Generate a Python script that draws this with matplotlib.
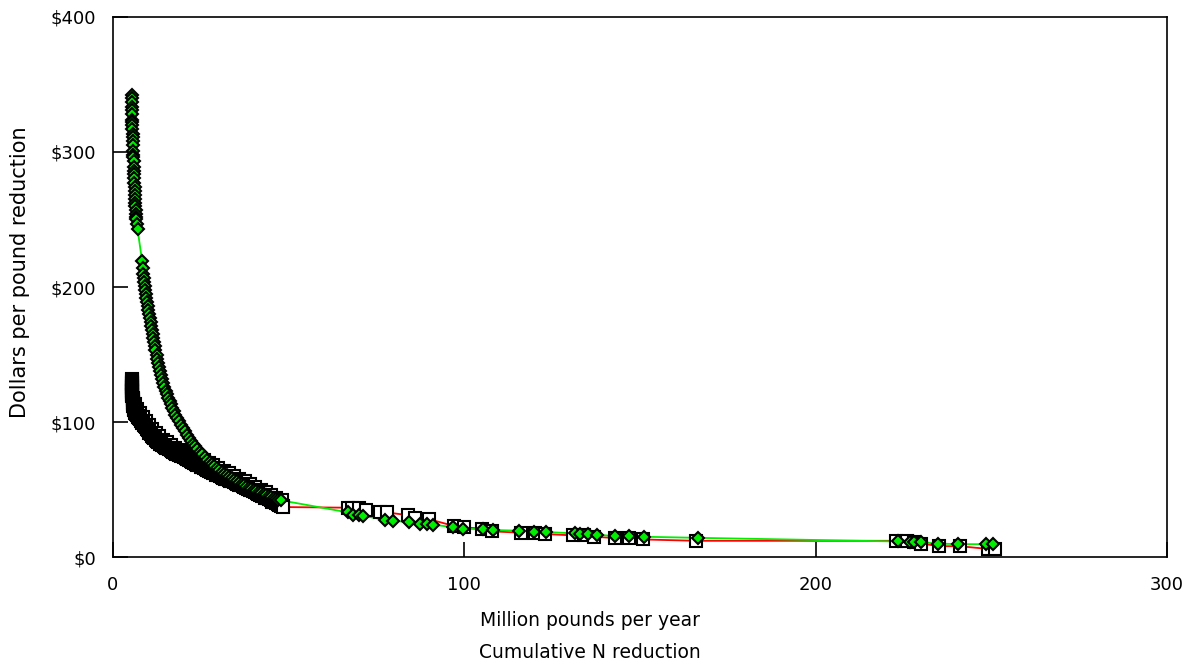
import matplotlib.pyplot as plt
from matplotlib.ticker import FuncFormatter

# left part of series 1 (squares, red line): dense run of points
sq_left = [
    (5.3, 132), (5.3, 131), (5.35, 130), (5.35, 129), (5.4, 128), (5.4, 127),
    (5.4, 126), (5.45, 125), (5.45, 124), (5.5, 123), (5.5, 122), (5.5, 121),
    (5.55, 120), (5.55, 119), (5.6, 118), (5.6, 117), (5.65, 116), (5.7, 115),
    (5.7, 114), (5.75, 113), (5.8, 112), (5.85, 111), (5.9, 110), (6.0, 109),
    (6.2, 108), (6.4, 107), (6.6, 106), (6.8, 105), (7.0, 104.5), (7.2, 104),
    (7.5, 103), (7.7, 102), (7.9, 101), (8.2, 100), (8.4, 99.5), (8.6, 99),
    (8.9, 98), (9.1, 97), (9.4, 96), (9.6, 95), (9.9, 94), (10.2, 93),
    (10.4, 92), (10.7, 91), (11.0, 90), (11.3, 89), (11.6, 88.5), (11.9, 88),
    (12.2, 87), (12.5, 86), (12.8, 85.5), (13.1, 85), (13.5, 84), (13.8, 83.5),
    (14.1, 83), (14.5, 82), (14.8, 81.5), (15.2, 81), (15.6, 80.5), (16.0, 80),
    (16.4, 79), (16.8, 78.5), (17.2, 78), (17.6, 77), (18.0, 76.5), (18.5, 76),
    (18.9, 75.5), (19.3, 75), (19.8, 74.5), (20.2, 74), (20.7, 73), (21.2, 72.5),
    (21.6, 72), (22.1, 71), (22.6, 70.5), (23.0, 70), (23.5, 69), (24.0, 68.5),
    (24.5, 68), (25.0, 67), (25.4, 66.5), (25.9, 66), (26.4, 65), (26.9, 64.5),
    (27.4, 64), (27.9, 63), (28.4, 62.5), (28.9, 62), (29.4, 61), (29.9, 60.5),
    (30.4, 60), (30.9, 59), (31.4, 58.5), (31.9, 58), (32.4, 57.5), (32.9, 57),
    (33.4, 56.5), (33.9, 56), (34.4, 55.5), (34.9, 55), (35.4, 54), (35.9, 53.5),
    (36.4, 53), (36.9, 52.5), (37.4, 52), (37.9, 51), (38.4, 50.5), (38.9, 50),
    (39.4, 49.5), (39.9, 49), (40.4, 48), (40.9, 47.5), (41.4, 47), (41.9, 46),
    (42.4, 45.5), (42.9, 45), (43.4, 44), (43.9, 43.5), (44.4, 43), (44.9, 42),
    (45.4, 41), (45.9, 40.5), (46.4, 40), (46.9, 39), (47.4, 38.5), (47.9, 38),
    (48.3, 37.5), (48.5, 37),
]
# squares lying above the main run, widening the black band
sq_upper = [
    (6.2, 113), (6.8, 110), (7.6, 107), (8.5, 104), (9.4, 101), (10.3, 98),
    (11.2, 95), (12.2, 92), (13.2, 89.5), (14.3, 87), (15.4, 85), (16.6, 83),
    (17.8, 81), (19.0, 79.5), (20.3, 78), (21.6, 76.5), (23.0, 75), (24.4, 73.5),
    (25.8, 72), (27.2, 70), (28.6, 68), (30.0, 66), (31.5, 64), (33.0, 62),
    (34.5, 60), (36.0, 58), (37.5, 56), (39.0, 54), (40.5, 52), (42.0, 50),
    (43.5, 48), (45.0, 46), (46.5, 44), (48.0, 42),
]
# right part of series 1
sq_right = [
    (67, 36.5), (68, 36.5), (70, 36), (72, 35), (76, 33), (78, 33), (84, 31),
    (86, 29), (90, 28), (97, 23), (100, 22), (105, 21), (108, 19), (116, 18),
    (120, 18), (123, 17), (131, 16), (134, 16), (137, 15), (143, 14), (147, 14),
    (151, 13), (166, 12), (223, 12), (226, 12), (228, 11), (230, 10), (235, 8),
    (241, 8), (249, 6), (251, 6),
]

# series 2 (diamonds, green line)
dm_left = [
    (5.3, 342), (5.3, 340), (5.35, 337), (5.4, 333), (5.4, 331), (5.45, 328),
    (5.5, 324), (5.5, 322), (5.5, 320), (5.55, 317), (5.6, 313), (5.6, 311),
    (5.65, 308), (5.7, 305), (5.75, 301), (5.8, 298), (5.8, 296), (5.85, 293),
    (5.9, 289), (5.95, 286), (6.0, 284), (6.05, 281), (6.1, 277), (6.15, 274),
    (6.2, 271), (6.25, 268), (6.3, 265), (6.35, 262), (6.4, 260), (6.5, 257),
    (6.55, 254), (6.6, 252), (6.7, 250), (6.85, 247), (7.0, 243),
    (8.3, 219), (8.5, 214), (8.6, 210), (8.7, 207), (8.8, 204), (9.0, 201),
    (9.2, 198), (9.3, 195), (9.5, 192), (9.7, 189), (9.9, 186), (10.1, 183),
    (10.3, 180), (10.5, 177), (10.7, 174), (10.9, 171), (11.1, 168), (11.3, 165),
    (11.5, 162), (11.7, 159), (11.9, 156), (12.1, 153), (12.4, 150), (12.6, 147),
    (12.9, 144), (13.1, 141), (13.4, 138), (13.7, 135), (14.0, 132), (14.3, 129),
    (14.6, 126), (15.0, 123), (15.3, 120.5), (15.7, 118), (16.1, 115.5),
    (16.5, 113), (16.9, 110.5), (17.4, 108), (17.8, 105.5), (18.3, 103),
    (18.8, 100.5), (19.3, 98), (19.8, 95.5), (20.4, 93), (21.0, 90.5), (21.6, 88),
    (22.2, 86), (22.8, 84), (23.4, 82), (24.0, 80), (24.7, 78), (25.4, 76),
    (26.1, 74), (26.8, 72), (27.5, 70.5), (28.2, 69), (28.9, 67.5), (29.6, 66),
    (30.3, 64.5), (31.0, 63), (31.7, 61.8), (32.4, 60.6), (33.1, 59.4),
    (33.8, 58.2), (34.5, 57), (35.2, 56), (35.9, 55), (36.6, 54), (37.3, 53),
    (38.0, 52), (38.7, 51.2), (39.4, 50.4), (40.1, 49.6), (40.8, 48.8),
    (41.5, 48), (42.2, 47.2), (42.9, 46.4), (43.6, 45.7), (44.3, 45),
    (45.0, 44.3), (45.7, 43.7), (46.4, 43.1), (47.1, 42.5), (47.8, 42),
]
dm_right = [
    (67, 33), (68.4, 31), (70, 31), (71.3, 30.5), (77.4, 27.5), (79.6, 27),
    (84.3, 25.7), (87.4, 24.5), (89.3, 24.3), (91.2, 24), (96.9, 22), (99.7, 21),
    (105.4, 20.5), (108.2, 20), (115.6, 19.5), (119.8, 18.8), (123.2, 18.5),
    (131.5, 17.5), (133, 17), (135.1, 16.8), (137.7, 16.5), (142.9, 15.5),
    (146.9, 15.3), (151.2, 15), (166.6, 14.2), (223.3, 11.5), (226.9, 11.2),
    (228, 11), (230.1, 10.8), (234.7, 10), (240.4, 9.5), (248.6, 9.5),
    (250.6, 9.3),
]

sq_x, sq_y = zip(*(sq_left + sq_right))
up_x, up_y = zip(*sq_upper)
dm_x, dm_y = zip(*(dm_left + dm_right))

x_ticks = [0, 100, 200, 300]
y_ticks = [0, 100, 200, 300, 400]

fig = plt.figure(figsize=(11.94, 6.69), dpi=100)
ax = fig.add_axes([0.0946, 0.1674, 0.8828, 0.8072])

ax.plot(sq_x, sq_y, color='#ff0000', lw=1.3, zorder=1)
ax.plot(dm_x, dm_y, color='#00ee00', lw=1.3, zorder=1)
sq_style = dict(ls='none', marker='s', ms=8.5, mfc='white', mec='black', mew=1.5, zorder=2)
ax.plot(up_x, up_y, **sq_style)
ax.plot(sq_x, sq_y, **sq_style)
ax.plot(dm_x, dm_y, ls='none', marker='D', ms=6.5, mfc='#00ee00', mec='black',
        mew=1.5, zorder=3)

ax.set_xlim(0, 300)
ax.set_ylim(0, 400)
ax.set_xticks(x_ticks)
ax.set_yticks(y_ticks)
ax.yaxis.set_major_formatter(FuncFormatter(lambda v, p: f'${v:.0f}'))
ax.tick_params(direction='in', length=11, width=1.2, labelsize=13, pad=12)
ax.tick_params(axis='x', pad=14)
ax.tick_params(top=False, right=False)
for s in ax.spines.values():
    s.set_linewidth(1.2)

fig.text(0.494, 0.073, 'Million pounds per year', ha='center', va='center', fontsize=13.5)
fig.text(0.494, 0.025, 'Cumulative N reduction', ha='center', va='center', fontsize=13.5)
fig.text(0.017, 0.593, 'Dollars per pound reduction', ha='center', va='center',
         rotation=90, fontsize=15)

fig.savefig('out.png', dpi=100)
